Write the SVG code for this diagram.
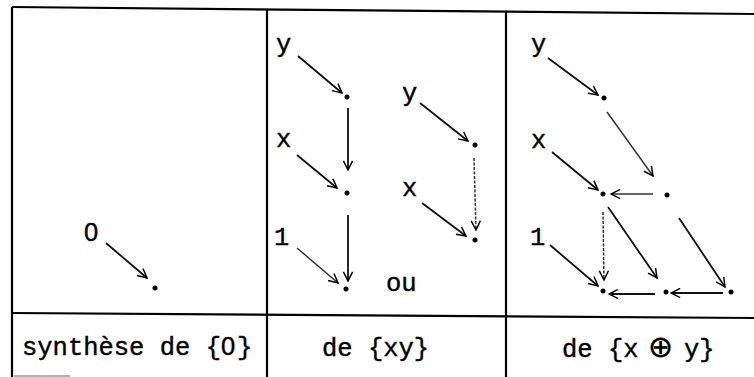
<svg xmlns="http://www.w3.org/2000/svg" width="754" height="377" viewBox="0 0 754 377">
<style>
.grid{stroke:#000;stroke-width:2.2;fill:none}
.t{font-family:"Liberation Mono","DejaVu Sans Mono",monospace;font-size:25.5px;fill:#000;stroke:#000;stroke-width:0.4}
.z{font-family:"Liberation Sans","DejaVu Sans",sans-serif}
.op{font-family:"DejaVu Sans",sans-serif;font-size:30px}
.c{stroke:#111;stroke-width:1.8;fill:none;marker-end:url(#ah)}
.f{stroke:#333;stroke-width:1.5}
.d{stroke-dasharray:3 1.5}
.dot{fill:#000}
</style>
<defs>
<marker id="ah" viewBox="0 0 12 12" refX="11" refY="6" markerWidth="11" markerHeight="11" markerUnits="userSpaceOnUse" orient="auto">
<path d="M1,1 L11,6 L1,11" fill="none" stroke="#000" stroke-width="1.6"/>
</marker>
</defs>
<rect width="754" height="377" fill="#fff"/>
<g id="table">
<line class="grid" x1="12" y1="7" x2="754" y2="14"/>
<line class="grid" x1="12" y1="313" x2="754" y2="318"/>
<line class="grid" x1="12" y1="7" x2="12" y2="377"/>
<line class="grid" x1="267" y1="9" x2="267" y2="377"/>
<line class="grid" x1="506" y1="11" x2="506" y2="377"/>
<line x1="14" y1="376" x2="70" y2="376" stroke="#666" stroke-width="1"/>
<text class="t" x="22" y="355">synthèse de {<tspan class="z" x="221">0</tspan><tspan x="237">}</tspan></text>
<text class="t" x="322" y="356">de {xy}</text>
<text class="t" x="562" y="357">de {x<tspan class="op" x="648" y="357">⊕</tspan><tspan x="684">y}</tspan></text>
</g>
<g id="connectors">
<line class="c" x1="106" y1="243" x2="147" y2="278"/>
<line class="c" x1="298" y1="56" x2="342" y2="93"/>
<line class="c" x1="348" y1="108" x2="348" y2="170"/>
<line class="c" x1="297" y1="155" x2="337" y2="188"/>
<line class="c f" x1="297" y1="248" x2="338" y2="283"/>
<line class="c" x1="348" y1="215" x2="348" y2="281"/>
<line class="c" x1="420" y1="103" x2="468" y2="141"/>
<line class="c f d" x1="474" y1="158" x2="476" y2="230"/>
<line class="c" x1="422" y1="203" x2="466" y2="236"/>
<line class="c" x1="548" y1="58" x2="598" y2="95"/>
<line class="c f" x1="607" y1="112" x2="653" y2="176"/>
<line class="c f" x1="653" y1="194" x2="611" y2="194"/>
<line class="c" x1="552" y1="152" x2="598" y2="190"/>
<line class="c" x1="550" y1="245" x2="598" y2="286"/>
<line class="c f d" x1="603" y1="212" x2="604" y2="280"/>
<line class="c" x1="608" y1="207" x2="657" y2="278"/>
<line class="c" x1="679" y1="218" x2="725" y2="287"/>
<line class="c" x1="655" y1="294" x2="609" y2="294"/>
<line class="c" x1="723" y1="293" x2="671" y2="293"/>
</g>
<g id="n-zero"><text class="t z" x="84" y="241">0</text></g>
<g id="n-zero-dot"><circle class="dot" cx="155" cy="288" r="2.5"/></g>
<g id="a-y"><text class="t" x="276" y="52">y</text></g>
<g id="a-x"><text class="t" x="276" y="147">x</text></g>
<g id="a-one"><text class="t" x="274" y="245">1</text></g>
<g id="a-dot1"><circle class="dot" cx="347" cy="97" r="2.5"/></g>
<g id="a-dot2"><circle class="dot" cx="347" cy="193" r="2.5"/></g>
<g id="a-dot3"><circle class="dot" cx="346" cy="289" r="2.5"/></g>
<g id="ou"><text class="t" x="386" y="291">ou</text></g>
<g id="b-y"><text class="t" x="402" y="101">y</text></g>
<g id="b-x"><text class="t" x="402" y="196">x</text></g>
<g id="b-dot1"><circle class="dot" cx="475" cy="145" r="2.5"/></g>
<g id="b-dot2"><circle class="dot" cx="475" cy="240" r="2.5"/></g>
<g id="c-y"><text class="t" x="531" y="52">y</text></g>
<g id="c-x"><text class="t" x="531" y="148">x</text></g>
<g id="c-one"><text class="t" x="530" y="245">1</text></g>
<g id="c-dot1"><circle class="dot" cx="604" cy="98" r="2.5"/></g>
<g id="c-dot2"><circle class="dot" cx="603" cy="194" r="2.5"/></g>
<g id="c-dot3"><circle class="dot" cx="667" cy="195" r="2.5"/></g>
<g id="c-dot4"><circle class="dot" cx="603" cy="291" r="2.5"/></g>
<g id="c-dot5"><circle class="dot" cx="666" cy="292" r="2.5"/></g>
<g id="c-dot6"><circle class="dot" cx="731" cy="292" r="2.5"/></g>
</svg>
